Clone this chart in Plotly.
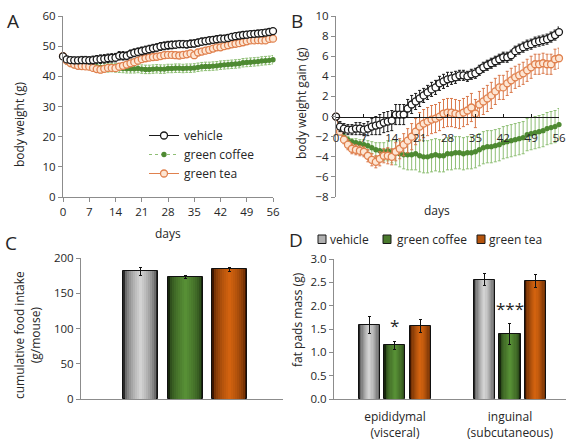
import plotly.graph_objects as go

# ---------------- data ----------------
days = list(range(0, 57))
day_ticks = [0, 7, 14, 21, 28, 35, 42, 49, 56]

# Panel A: body weight (g)
vehicle_bw = [
    46.6, 45.6, 45.4, 45.3, 45.3, 45.4, 45.4, 45.3, 45.4, 45.6,
    45.7, 45.8, 46.0, 46.1, 46.2, 46.8, 46.8, 46.8, 47.4, 47.8,
    48.1, 48.4, 48.7, 49.0, 49.3, 49.5, 49.9, 50.1, 50.3, 50.4,
    50.5, 50.7, 50.7, 50.6, 50.8, 50.9, 51.2, 51.5, 51.7, 51.9,
    52.1, 52.3, 52.5, 52.5, 52.7, 53.1, 53.3, 53.5, 53.7, 53.8,
    54.0, 54.1, 54.2, 54.3, 54.5, 54.7, 55.0]
coffee_bw = [
    46.3, 45.0, 44.3, 44.0, 43.8, 43.7, 43.6, 43.5, 43.4, 43.2,
    43.0, 42.9, 42.8, 42.9, 42.8, 42.7, 42.6, 42.5, 42.5, 42.5,
    42.6, 42.4, 42.3, 42.3, 42.4, 42.5, 42.4, 42.4, 42.6, 42.6,
    42.7, 42.7, 42.6, 42.7, 42.7, 42.8, 43.0, 43.2, 43.3, 43.3,
    43.4, 43.5, 43.7, 43.8, 43.9, 44.0, 44.1, 44.2, 44.5, 44.6,
    44.7, 44.8, 44.9, 45.1, 45.2, 45.3, 45.5]
tea_bw = [
    46.7, 45.2, 44.4, 43.9, 43.5, 43.4, 43.3, 43.2, 42.8, 42.4,
    42.2, 42.5, 42.8, 42.8, 42.7, 43.2, 43.5, 43.9, 44.3, 44.7,
    45.2, 45.7, 46.0, 46.2, 46.4, 46.5, 46.7, 47.0, 47.1, 47.1,
    47.0, 46.9, 47.1, 47.3, 47.6, 47.0, 47.9, 48.2, 48.5, 48.8,
    49.2, 49.6, 49.6, 50.0, 50.3, 50.6, 50.8, 51.0, 51.3, 51.6,
    51.9, 51.9, 52.0, 51.9, 51.9, 52.4, 52.5]
vehicle_bw_err = [
    1.0, 1.0, 1.0, 1.1, 1.1, 1.2, 1.2, 1.2, 1.3, 1.3,
    1.4, 1.4, 1.4, 1.4, 1.4, 1.4, 1.4, 1.3, 1.3, 1.3,
    1.3, 1.3, 1.3, 1.3, 1.3, 1.3, 1.3, 1.3, 1.3, 1.3,
    1.2, 1.2, 1.2, 1.2, 1.2, 1.2, 1.2, 1.2, 1.2, 1.2,
    1.1, 1.1, 1.1, 1.1, 1.1, 1.1, 1.1, 1.1, 1.1, 1.1,
    1.0, 1.0, 1.0, 1.0, 1.0, 1.0, 1.0]
coffee_bw_err = [
    1.0, 1.1, 1.1, 1.2, 1.2, 1.2, 1.2, 1.3, 1.3, 1.3,
    1.3, 1.3, 1.4, 1.4, 1.4, 1.4, 1.4, 1.4, 1.4, 1.4,
    1.4, 1.4, 1.4, 1.4, 1.4, 1.4, 1.4, 1.4, 1.4, 1.4,
    1.4, 1.4, 1.4, 1.4, 1.4, 1.4, 1.4, 1.4, 1.4, 1.4,
    1.4, 1.4, 1.4, 1.4, 1.4, 1.4, 1.4, 1.4, 1.4, 1.4,
    1.4, 1.4, 1.4, 1.4, 1.4, 1.4, 1.4]
tea_bw_err = [
    1.0, 1.0, 1.0, 1.0, 1.0, 1.0, 1.0, 1.0, 1.0, 1.0,
    1.0, 1.0, 1.0, 1.0, 1.0, 1.0, 1.0, 1.0, 1.0, 1.0,
    1.0, 1.0, 1.0, 1.0, 1.0, 1.0, 1.0, 1.0, 1.0, 1.0,
    1.0, 1.0, 1.0, 1.0, 1.0, 1.0, 1.0, 1.0, 1.0, 1.0,
    1.0, 1.0, 1.0, 1.0, 1.0, 1.0, 1.0, 1.0, 1.0, 1.0,
    1.0, 1.0, 1.0, 1.0, 1.0, 1.0, 1.0]

# Panel B: body weight gain (g)
vehicle_gain = [
    0.0, -1.0, -1.2, -1.3, -1.3, -1.2, -1.2, -1.3, -1.2, -1.0,
    -0.9, -0.8, -0.6, -0.5, -0.4, 0.2, 0.2, 0.2, 0.8, 1.2,
    1.5, 1.8, 2.1, 2.4, 2.7, 2.9, 3.3, 3.5, 3.7, 3.8,
    3.9, 4.1, 4.1, 4.0, 4.2, 4.3, 4.6, 4.9, 5.1, 5.3,
    5.5, 5.7, 5.9, 5.9, 6.1, 6.5, 6.7, 6.9, 7.1, 7.2,
    7.4, 7.5, 7.6, 7.7, 7.9, 8.1, 8.4]
coffee_gain = [
    0.0, -1.3, -2.0, -2.3, -2.5, -2.6, -2.7, -2.8, -2.9, -3.1,
    -3.3, -3.4, -3.5, -3.4, -3.5, -3.6, -3.7, -3.8, -3.8, -3.8,
    -3.7, -3.9, -4.0, -4.0, -3.9, -3.8, -3.9, -3.9, -3.7, -3.7,
    -3.6, -3.6, -3.7, -3.6, -3.6, -3.5, -3.3, -3.1, -3.0, -3.0,
    -2.9, -2.8, -2.6, -2.5, -2.4, -2.3, -2.2, -2.1, -1.8, -1.7,
    -1.6, -1.5, -1.4, -1.2, -1.1, -1.0, -0.8]
tea_gain = [
    0.0, -1.5, -2.3, -2.8, -3.2, -3.3, -3.4, -3.5, -3.9, -4.3,
    -4.5, -4.2, -3.9, -3.9, -4.0, -3.5, -3.2, -2.8, -2.4, -2.0,
    -1.5, -1.0, -0.7, -0.5, -0.3, -0.2, 0.0, 0.3, 0.4, 0.4,
    0.3, 0.2, 0.4, 0.6, 0.9, 0.3, 1.2, 1.5, 1.8, 2.1,
    2.5, 2.9, 2.9, 3.3, 3.6, 3.9, 4.1, 4.3, 4.6, 4.9,
    5.2, 5.2, 5.3, 5.2, 5.2, 5.7, 5.8]
vehicle_gain_err = [
    0.0, 0.5, 0.5, 0.5, 0.5, 0.6, 0.6, 0.6, 0.7, 0.8,
    0.9, 1.0, 1.0, 1.0, 1.0, 1.0, 1.0, 1.0, 0.9, 0.9,
    0.8, 0.8, 0.7, 0.7, 0.7, 0.7, 0.7, 0.7, 0.7, 0.6,
    0.6, 0.5, 0.5, 0.5, 0.5, 0.5, 0.5, 0.5, 0.5, 0.5,
    0.5, 0.5, 0.5, 0.5, 0.5, 0.5, 0.5, 0.5, 0.5, 0.5,
    0.5, 0.5, 0.5, 0.5, 0.5, 0.5, 0.5]
coffee_gain_err = [
    0.0, 0.2, 0.3, 0.3, 0.3, 0.4, 0.4, 0.5, 0.5, 0.6,
    0.7, 0.8, 0.9, 1.0, 1.1, 1.2, 1.3, 1.4, 1.5, 1.5,
    1.6, 1.6, 1.6, 1.6, 1.6, 1.6, 1.6, 1.6, 1.6, 1.6,
    1.6, 1.6, 1.6, 1.6, 1.6, 1.6, 1.6, 1.6, 1.6, 1.6,
    1.6, 1.6, 1.6, 1.6, 1.6, 1.6, 1.6, 1.6, 1.6, 1.6,
    1.6, 1.6, 1.6, 1.6, 1.6, 1.6, 1.6]
tea_gain_err = [
    0.0, 0.3, 0.4, 0.5, 0.5, 0.5, 0.5, 0.5, 0.6, 0.6,
    0.6, 0.7, 0.7, 0.8, 0.8, 0.9, 1.0, 1.1, 1.2, 1.3,
    1.3, 1.4, 1.4, 1.4, 1.4, 1.4, 1.4, 1.4, 1.4, 1.4,
    1.4, 1.4, 1.4, 1.4, 1.4, 1.4, 1.3, 1.3, 1.3, 1.3,
    1.3, 1.2, 1.2, 1.2, 1.2, 1.1, 1.1, 1.1, 1.1, 1.1,
    1.0, 1.0, 1.0, 1.0, 1.0, 1.0, 1.0]

# Panel C: cumulative food intake (g/mouse)
groups = ["vehicle", "green coffee", "green tea"]
food_intake = [181, 173, 184]
food_intake_err = [6, 2, 3]

# Panel D: fat pads mass (g)
fat_sites = ["epididymal<br>(visceral)", "inguinal<br>(subcutaneous)"]
fat_vehicle = [1.59, 2.56]
fat_vehicle_err = [0.18, 0.12]
fat_coffee = [1.15, 1.39]
fat_coffee_err = [0.09, 0.22]
fat_tea = [1.57, 2.53]
fat_tea_err = [0.14, 0.13]
fat_signif = ["*", "***"]

# ---------------- style ----------------
FONT = "Open Sans"
FS = 11.5
TXT = "#262626"
AXC = "#8c8c8c"
W, H = 566, 441


def px(x):
    return x / W


def py(y):
    return 1 - y / H


fig = go.Figure()

line_styles = {
    "vehicle": dict(color="#1a1a1a", fill="white", size=7, err="#1a1a1a",
                    line="#1a1a1a", dash="solid"),
    "green coffee": dict(color="#4e8a32", fill="#4e8a32", size=4, err="#8fbf75",
                         line="#8fbf75", dash="dot"),
    "green tea": dict(color="#e0814e", fill="#fde6d4", size=7, err="#d9784a",
                      line="#e0814e", dash="solid"),
}


def add_series(name, y, err, xa, ya):
    s = line_styles[name]
    fig.add_trace(go.Scatter(
        x=days, y=y, mode="lines+markers", name=name,
        xaxis=xa, yaxis=ya, showlegend=False,
        line=dict(color=s["line"], width=1, dash=s["dash"]),
        marker=dict(size=s["size"], color=s["fill"], line=dict(color=s["color"], width=1.3)),
        error_y=dict(type="data", array=err, visible=True, color=s["err"], thickness=1, width=1.5),
        cliponaxis=False,
    ))


for nm, yv, ev in [("green coffee", coffee_bw, coffee_bw_err),
                   ("green tea", tea_bw, tea_bw_err),
                   ("vehicle", vehicle_bw, vehicle_bw_err)]:
    add_series(nm, yv, ev, "x", "y")

for nm, yv, ev in [("green coffee", coffee_gain, coffee_gain_err),
                   ("green tea", tea_gain, tea_gain_err),
                   ("vehicle", vehicle_gain, vehicle_gain_err)]:
    add_series(nm, yv, ev, "x2", "y2")

# legend entries for panel A (order vehicle, coffee, tea)
for nm in groups:
    s = line_styles[nm]
    fig.add_trace(go.Scatter(
        x=[None], y=[None], mode="lines+markers", name=nm, xaxis="x", yaxis="y",
        line=dict(color=s["line"], width=1, dash=s["dash"]),
        marker=dict(size=s["size"], color=s["fill"], line=dict(color=s["color"], width=1.3)),
    ))

# gradient bars
bar_colors = {
    "vehicle": ("#2a2a2a", "#d2d2d2"),
    "green coffee": ("#17280d", "#578f35"),
    "green tea": ("#3e1600", "#d2620f"),
}


def mix(c1, c2, t):
    a = [int(c1[i:i + 2], 16) for i in (1, 3, 5)]
    b = [int(c2[i:i + 2], 16) for i in (1, 3, 5)]
    return "#%02x%02x%02x" % tuple(int(round(a[k] + (b[k] - a[k]) * t)) for k in range(3))


def gradient_bars(name, x, y, err, width, xa, ya):
    dark, light = bar_colors[name]
    n = 9
    for i in range(n):
        t = (i / (n - 1)) ** 0.45
        frac = 1 - 0.92 * i / (n - 1)
        last = i == n - 1
        fig.add_trace(go.Bar(
            x=x, y=y, width=[width * frac] * len(x), xaxis=xa, yaxis=ya,
            name=name, showlegend=False,
            marker=dict(color=mix(dark, light, t),
                        line=dict(color="#111111", width=1 if i == 0 else 0)),
            error_y=dict(type="data", array=err, visible=last, color="#111111",
                         thickness=1, width=1.5),
            hoverinfo="skip",
        ))


gradient_bars("vehicle", [0], [food_intake[0]], [food_intake_err[0]], 0.79, "x3", "y3")
gradient_bars("green coffee", [1], [food_intake[1]], [food_intake_err[1]], 0.79, "x3", "y3")
gradient_bars("green tea", [2], [food_intake[2]], [food_intake_err[2]], 0.79, "x3", "y3")

site_pos = list(range(len(fat_sites)))
off = 0.222
gradient_bars("vehicle", [p - off for p in site_pos], fat_vehicle, fat_vehicle_err, 0.183, "x4", "y4")
gradient_bars("green coffee", site_pos, fat_coffee, fat_coffee_err, 0.183, "x4", "y4")
gradient_bars("green tea", [p + off for p in site_pos], fat_tea, fat_tea_err, 0.183, "x4", "y4")

for p, s, v, e in zip(site_pos, fat_signif, fat_coffee, fat_coffee_err):
    fig.add_annotation(x=p, y=v + e, xref="x4", yref="y4", text=s, showarrow=False,
                       xanchor="center", yanchor="bottom", yshift=2,
                       font=dict(size=17, color=TXT, family=FONT))

# panel D legend (manual keys)
legend_d = [("vehicle", 318, 328), ("green coffee", 383, 395), ("green tea", 477, 487)]
for nm, sx, tx in legend_d:
    dark, light = bar_colors[nm]
    fig.add_shape(type="rect", xref="paper", yref="paper",
                  x0=px(sx), x1=px(sx + 8), y0=py(243.5), y1=py(235),
                  fillcolor=mix(dark, light, 0.8), line=dict(color="#1a1a1a", width=1))
    fig.add_annotation(x=px(tx), y=py(239.5), xref="paper", yref="paper", text=nm,
                       showarrow=False, xanchor="left", yanchor="middle",
                       font=dict(size=12, color=TXT, family=FONT))

tickfont = dict(size=FS, color=TXT, family=FONT)
ax_common = dict(showline=True, linecolor=AXC, linewidth=1, showgrid=False, zeroline=False,
                 tickfont=tickfont, ticks="outside", tickcolor=AXC, ticklen=4,
                 automargin=False)

fig.update_layout(
    width=W, height=H, margin=dict(l=0, r=0, t=0, b=0, autoexpand=False),
    plot_bgcolor="white", paper_bgcolor="white",
    font=dict(family=FONT, color=TXT, size=FS),
    barmode="overlay", bargap=0,
    xaxis=dict(domain=[px(63), px(273)], range=[0, 56], tickvals=day_ticks, anchor="y", **ax_common),
    yaxis=dict(domain=[py(197), py(16)], range=[0, 60], dtick=10, anchor="x", **ax_common),
    xaxis2=dict(domain=[px(336), px(559)], range=[0, 56], tickvals=day_ticks, anchor="free",
                position=py(116.5), showline=True, linecolor="#1a1a1a", linewidth=1,
                showgrid=False, zeroline=False, tickfont=tickfont, ticks="inside",
                tickcolor="#1a1a1a", ticklen=3, ticklabelstandoff=11, automargin=False),
    yaxis2=dict(domain=[py(197), py(16)], range=[-8, 10], dtick=2, anchor="x2", **ax_common),
    xaxis3=dict(domain=[px(81), px(283)], range=[-1.34, 3.2], anchor="y3", showline=True,
                linecolor=AXC, showticklabels=False, ticks="", showgrid=False, zeroline=False,
                automargin=False),
    yaxis3=dict(domain=[py(399), py(258)], range=[0, 200], dtick=50, anchor="x3", **ax_common),
    xaxis4=dict(domain=[px(334), 1.0], range=[-0.53, 1.487], anchor="y4", showline=True,
                linecolor=AXC, tickvals=site_pos, ticktext=fat_sites, ticks="",
                tickfont=dict(size=12, color=TXT, family=FONT), showgrid=False,
                zeroline=False, ticklabelstandoff=7, automargin=False),
    yaxis4=dict(domain=[py(399), py(259)], range=[0, 3.0], dtick=0.5, tickformat=".1f",
                anchor="x4", **ax_common),
    legend=dict(x=px(144), y=py(121), xanchor="left", yanchor="top", bgcolor="rgba(0,0,0,0)",
                font=dict(size=12, color=TXT, family=FONT), itemwidth=30, tracegroupgap=0),
)

labels = [
    ("A", 13, 21), ("B", 297, 21), ("C", 11, 243), ("D", 296, 240),
]
for t, x, y in labels:
    fig.add_annotation(x=px(x), y=py(y), xref="paper", yref="paper", text=t, showarrow=False,
                       xanchor="center", yanchor="middle",
                       font=dict(size=19, color=TXT, family=FONT))

titles = [
    ("body weight (g)", 20, 125, -90),
    ("days", 168, 233, 0),
    ("body weight gain (g)", 302, 103, -90),
    ("days", 437, 210, 0),
    ("cumulative food intake<br>(g/mouse)", 27, 335, -90),
    ("fat pads mass (g)", 297, 320, -90),
]
for t, x, y, a in titles:
    fig.add_annotation(x=px(x), y=py(y), xref="paper", yref="paper", text=t, showarrow=False,
                       textangle=a, xanchor="center", yanchor="middle",
                       font=dict(size=12, color=TXT, family=FONT))

fig.write_html("out.html", config={"displayModeBar": False},
               post_script="document.body.style.margin='0';document.body.style.overflow='hidden';")
